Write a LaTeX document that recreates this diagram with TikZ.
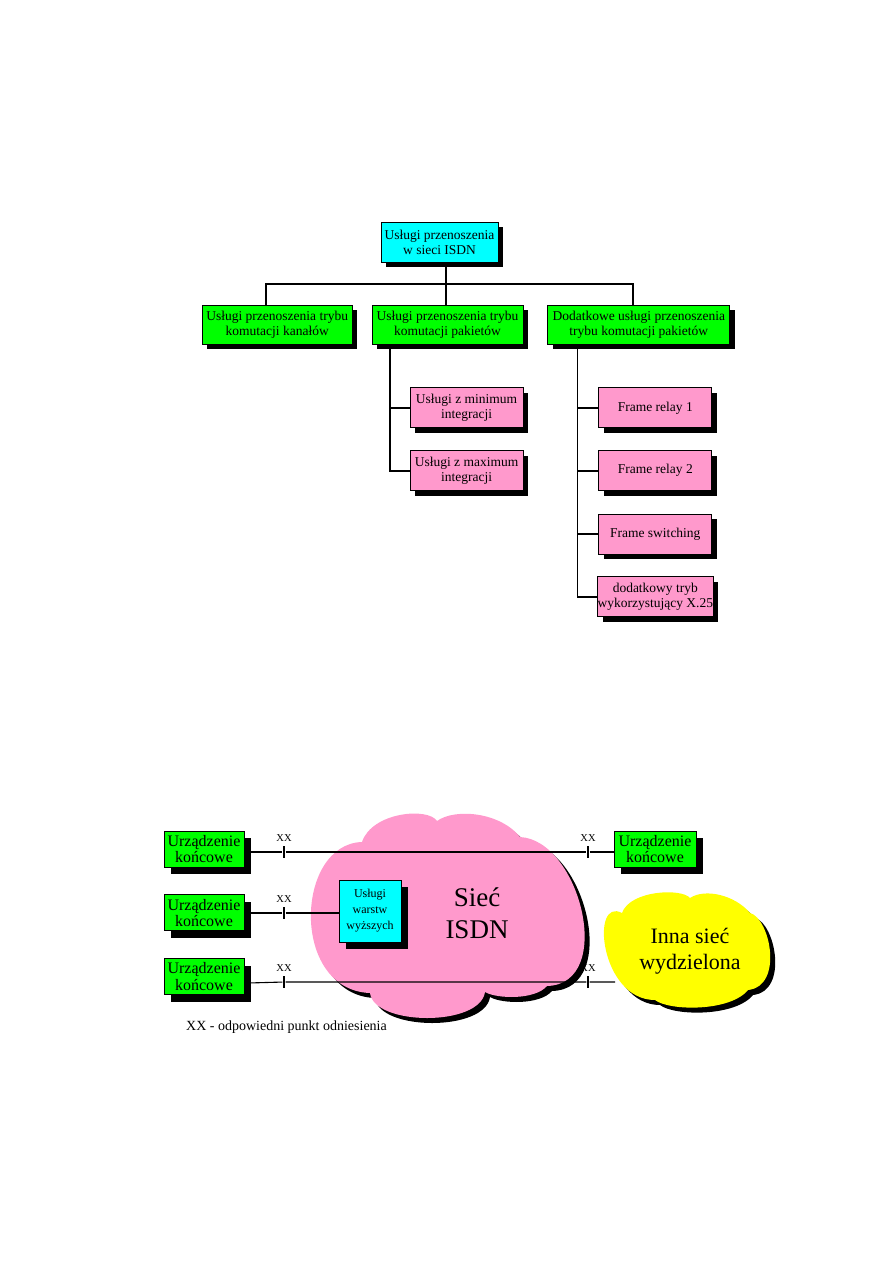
\documentclass[tikz,border=0pt]{standalone}
\usepackage{fontspec}
\setmainfont{Liberation Serif}
\definecolor{isdnCyan}{HTML}{00FFFF}
\definecolor{isdnGreen}{HTML}{00FF00}
\definecolor{isdnPink}{HTML}{FF99CC}
\definecolor{isdnYellow}{HTML}{FFFF00}
\usetikzlibrary{positioning, shadows}

\begin{document}
\begin{tikzpicture}[x=1pt, y=-1pt,
  every node/.style={align=center, inner sep=0pt},
  label distance=4pt,
  box/.style={rectangle, draw=black, line width=0.8pt, minimum height=40pt, minimum width=113pt,
              font=\fontsize{13.5}{15}\selectfont,
              drop shadow={shadow xshift=5pt, shadow yshift=-5pt, opacity=1, fill=black}},
  topbox/.style={box, fill=isdnCyan, minimum width=117pt},
  greenbox/.style={box, fill=isdnGreen, minimum height=39pt},
  pinkbox/.style={box, fill=isdnPink},
  devbox/.style={rectangle, draw=black, line width=0.8pt, fill=isdnGreen, minimum width=80pt, minimum height=36pt,
              font=\fontsize{16}{16.5}\selectfont,
              drop shadow={shadow xshift=7pt, shadow yshift=-7pt, opacity=1, fill=black}},
  cloudshade/.style={drop shadow={shadow xshift=5pt, shadow yshift=-5pt, opacity=1, fill=black}},
  tree/.style={line width=1.8pt},
  link/.style={line width=1.1pt},
  tick/.style={rectangle, fill=black, minimum width=2.7pt, minimum height=12pt,
               label={[font=\fontsize{10.5}{12}\selectfont]above:XX}}
]
  \useasboundingbox (0,0) rectangle (893,1263);

  \node[topbox] (isdn) at (439.5,242) {Usługi przenoszenia\\w sieci ISDN};
  \node[greenbox, minimum width=151pt] (pak) at (447.5,324.5) {Usługi przenoszenia trybu\\komutacji pakietów};
  \node[greenbox, minimum width=150pt, left=19pt of pak] (kan) {Usługi przenoszenia trybu\\komutacji kanałów};
  \node[greenbox, minimum width=182pt, right=24pt of pak] (dod) {Dodatkowe usługi przenoszenia\\trybu komutacji pakietów};

  \node[pinkbox, below left=43pt and 0pt of pak.south east] (pmin) {Usługi z minimum\\integracji};
  \node[pinkbox, below=22pt of pmin] (pmax) {Usługi z maximum\\integracji};

  \node[pinkbox, below left=43pt and 18pt of dod.south east] (fr1) {Frame relay 1};
  \node[pinkbox, below=22pt of fr1] (fr2) {Frame relay 2};
  \node[pinkbox, below=22.5pt of fr2] (fsw) {Frame switching};
  \node[pinkbox, below=22pt of fsw] (dtryb) {dodatkowy tryb\\wykorzystujący X.25};

  \coordinate (bus) at (446,284);
  \draw[tree] ([xshift=-11pt]kan.north) |- (bus) -| ([xshift=-6pt]dod.north);
  \draw[tree] (isdn.south -| bus) -- (bus |- pak.north);

  \coordinate (pakdown) at ([xshift=18pt]pak.south west);
  \draw[tree] (pakdown) |- (pmax.west);
  \draw[tree] (pmin.west) -- (pmin.west -| pakdown);

  \coordinate (doddown) at ([xshift=30pt]dod.south west);
  \draw[tree] (doddown) |- (dtryb.west);
  \foreach \n in {fr1, fr2, fsw}
    \draw[tree] (\n.west) -- (\n.west -| doddown);

  \path[fill=isdnPink, cloudshade] (362,842)
    .. controls (372,812) and (428,807) .. (437,821)
    .. controls (455,808) and (500,812) .. (520,837)
    .. controls (580,840) and (616,984) .. (547,986)
    .. controls (535,1000) and (497,999) .. (485,992)
    .. controls (480,1027) and (374,1026) .. (370,993)
    .. controls (290,990) and (295,844) .. cycle;
  \node[font=\fontsize{27}{32}\selectfont] (siec) at (477,913) {Sieć\\ISDN};

  \path[fill=isdnYellow, cloudshade] (622,913)
    .. controls (630,890) and (682,888) .. (690,898)
    .. controls (705,888) and (735,895) .. (750,913)
    .. controls (770,918) and (784,986) .. (748,990)
    .. controls (730,1012) and (669,1011) .. (655,1000)
    .. controls (600,1000) and (590,896) .. cycle;
  \node[font=\fontsize{22}{26.5}\selectfont] (inna) at (690,951) {Inna sieć\\wydzielona};
  \coordinate (innaW) at (615,982);

  \node[devbox] (b1) at (204,849) {Urządzenie\\końcowe};
  \node[devbox, below=27pt of b1] (b2) {Urządzenie\\końcowe};
  \node[devbox, below=27pt of b2] (b3) {Urządzenie\\końcowe};
  \node[devbox, minimum width=82pt] (bR) at (655,849) {Urządzenie\\końcowe};
  \node[rectangle, draw=black, line width=0.8pt, fill=isdnCyan, minimum width=62pt, minimum height=62pt,
        font=\fontsize{12}{16}\selectfont,
        drop shadow={shadow xshift=7pt, shadow yshift=-7pt, opacity=1, fill=black}] (uwy) at (370,911)
        {Usługi\\warstw\\wyższych};

  \node[tick] (x1) at (284,852) {};
  \node[tick] (x2) at (588,852) {};
  \node[tick] (x3) at (284,913) {};
  \node[tick] (x4) at (284,982) {};
  \node[tick] (x5) at (588,982) {};

  \draw[link] ([yshift=-3pt]b1.east) -- (x1) -- (x2) -- ([yshift=-3pt]bR.west);
  \draw[link] (b2.east |- x3) -- (x3) -- (uwy.west |- x3);
  \draw[link] ([yshift=-6.5pt]b3.east) -- (x4) -- (x5) -- (innaW);

  \node[anchor=west, font=\fontsize{14}{16}\selectfont] (legend) at (186,1027) {XX - odpowiedni punkt odniesienia};
\end{tikzpicture}
\end{document}
